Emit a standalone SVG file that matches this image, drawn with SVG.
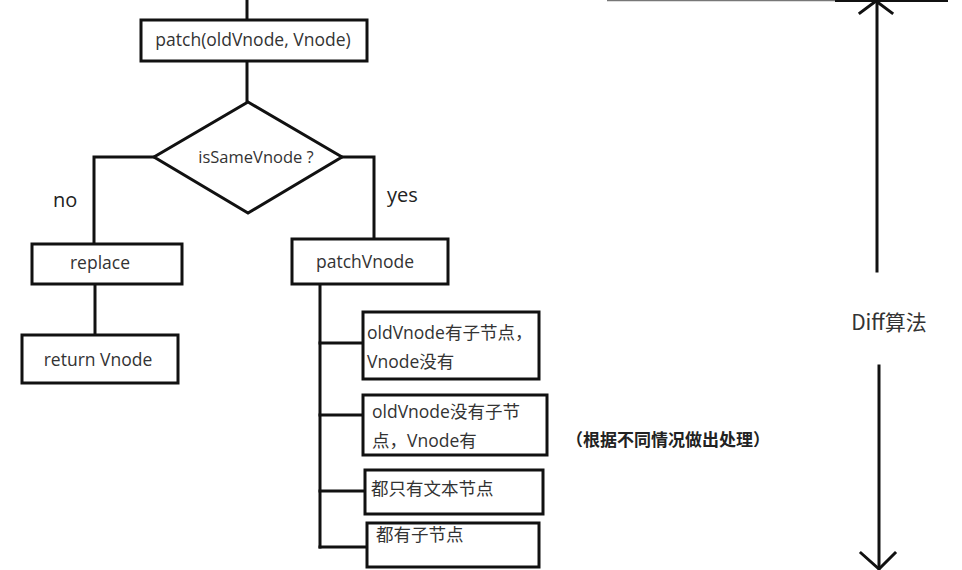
<svg xmlns="http://www.w3.org/2000/svg" width="962" height="570" viewBox="0 0 962 570">
<style>
.box{fill:#fff;stroke:#111;stroke-width:3}
.ln{fill:none;stroke:#111;stroke-width:3;stroke-linecap:square}
.t{font-family:"Open Sans","Noto Sans CJK SC",sans-serif;font-size:17.5px;fill:#333}
.c{text-anchor:middle}
.lbl{font-family:"Open Sans","Noto Sans CJK SC",sans-serif;font-size:20px;fill:#222}
.note{font-family:"Noto Sans CJK SC",sans-serif;font-size:17px;font-weight:bold;fill:#222}
</style>
<rect width="962" height="570" fill="#fff"/>
<g id="connectors">
<line class="ln" x1="247" y1="0" x2="247" y2="20"/>
<line class="ln" x1="247" y1="61" x2="247" y2="101"/>
<polyline class="ln" points="154,157 94,157 94,243"/>
<polyline class="ln" points="342,157 374,157 374,239"/>
<line class="ln" x1="95" y1="285" x2="95" y2="335"/>
<line class="ln" x1="320" y1="284" x2="320" y2="547"/>
<line class="ln" x1="320" y1="343" x2="363" y2="343"/>
<line class="ln" x1="320" y1="415" x2="363" y2="415"/>
<line class="ln" x1="320" y1="491" x2="365" y2="491"/>
<line class="ln" x1="320" y1="547" x2="367" y2="547"/>
</g>
<g id="diff-arrow">
<line x1="607" y1="0.5" x2="835" y2="0.5" stroke="#777" stroke-width="1.5"/>
<line x1="835" y1="0.5" x2="948" y2="0.5" stroke="#111" stroke-width="3"/>
<line class="ln" x1="877" y1="2" x2="877" y2="271"/>
<polyline class="ln" points="860,13 876,1 892,13"/>
<line class="ln" x1="879" y1="366" x2="879" y2="568"/>
<polyline class="ln" points="861,553 879,569 895,553"/>
<text x="889" y="330" text-anchor="middle" style="font-family:'Noto Sans CJK SC',sans-serif;font-size:21px;fill:#333">Diff算法</text>
</g>
<g id="patch">
<rect class="box" x="141" y="20" width="226" height="41"/>
<text class="t c" x="253" y="46">patch(oldVnode, Vnode)</text>
</g>
<g id="isSameVnode">
<polygon class="box" points="248,102 342,157 248,213 154,157"/>
<text class="t c" x="256" y="163" style="font-size:16.5px">isSameVnode ?</text>
</g>
<text class="lbl" x="53" y="207">no</text>
<text class="lbl" x="387" y="202">yes</text>
<g id="replace">
<rect class="box" x="32" y="244" width="150" height="40"/>
<text class="t c" x="100" y="269">replace</text>
</g>
<g id="return-vnode">
<rect class="box" x="22" y="335" width="156" height="48"/>
<text class="t c" x="98" y="366">return Vnode</text>
</g>
<g id="patchVnode">
<rect class="box" x="292" y="239" width="156" height="45"/>
<text class="t c" x="365" y="268">patchVnode</text>
</g>
<g id="case1">
<rect class="box" x="363" y="312" width="176" height="67"/>
<text class="t" x="367" y="339">oldVnode有子节点，</text>
<text class="t" x="367" y="368">Vnode没有</text>
</g>
<g id="case2">
<rect class="box" x="363" y="395" width="184" height="60"/>
<text class="t" x="372" y="418">oldVnode没有子节</text>
<text class="t" x="372" y="447">点，Vnode有</text>
</g>
<g id="case3">
<rect class="box" x="365" y="470" width="178" height="44"/>
<text class="t" x="371" y="495">都只有文本节点</text>
</g>
<g id="case4">
<rect class="box" x="367" y="523" width="172" height="44"/>
<text class="t" x="376" y="541">都有子节点</text>
</g>
<text class="note" x="566" y="446">（根据不同情况做出处理）</text>
</svg>
